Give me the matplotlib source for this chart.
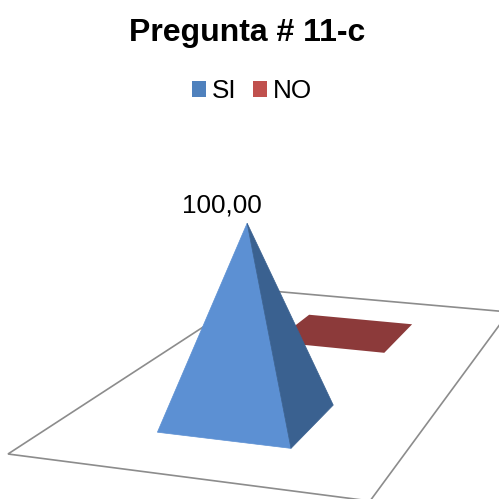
import matplotlib
matplotlib.use("Agg")
import matplotlib.pyplot as plt
from matplotlib.patches import Polygon, Patch

plt.rcParams['font.family'] = ['Liberation Sans', 'DejaVu Sans']

# data
title = "Pregunta # 11-c"
categories = ["SI", "NO"]
values = [100.00, 0.00]
value_labels = ["100,00", None]

# colours
legend_colors = ["#4F81BD", "#C0504D"]
front_colors = ["#5C90D3", "#8C3A3A"]
side_colors = ["#3A6190", "#8C3A3A"]
floor_color = "#8C8C8C"

# perspective floor: unit square -> pixels (fitted on the floor outline)
A, B, C, D = (8, 454), (370, 501), (509, 312), (260, 290)
def make_projection(A, B, C, D):
    dx1, dx2, sx = B[0]-C[0], D[0]-C[0], A[0]-B[0]+C[0]-D[0]
    dy1, dy2, sy = B[1]-C[1], D[1]-C[1], A[1]-B[1]+C[1]-D[1]
    den = dx1*dy2 - dx2*dy1
    g = (sx*dy2 - dx2*sy)/den
    h = (dx1*sy - sx*dy1)/den
    a, b = B[0]-A[0]+g*B[0], D[0]-A[0]+h*D[0]
    d, e = B[1]-A[1]+g*B[1], D[1]-A[1]+h*D[1]
    def project(u, v):
        w = g*u + h*v + 1
        return ((a*u + b*v + A[0])/w, (d*u + e*v + A[1])/w)
    return project
project = make_projection(A, B, C, D)

PX_PER_UNIT = 1.95
U_HALF, V_HALF = 0.197, 0.10

fig = plt.figure(figsize=(4.99, 4.99), dpi=100)
ax = fig.add_axes([0, 0, 1, 1])
ax.set_xlim(0, 499)
ax.set_ylim(499, 0)
ax.axis('off')

ax.add_patch(Polygon([A, B, C, D], closed=True, facecolor='white',
                     edgecolor=floor_color, linewidth=1.2, zorder=1))

# draw back to front
for i in reversed(range(len(categories))):
    vc = (i + 0.5)/len(categories) - 0.003
    fl = project(0.5-U_HALF, vc-V_HALF)
    fr = project(0.5+U_HALF, vc-V_HALF)
    br = project(0.5+U_HALF, vc+V_HALF)
    bl = project(0.5-U_HALF, vc+V_HALF)
    if values[i] > 0:
        cx, cy = project(0.5, vc)
        apex = (cx - 1, cy - values[i]*PX_PER_UNIT)
        ax.add_patch(Polygon([fl, fr, apex], closed=True, facecolor=front_colors[i],
                             edgecolor=front_colors[i], linewidth=0.5, zorder=3))
        ax.add_patch(Polygon([fr, br, apex], closed=True, facecolor=side_colors[i],
                             edgecolor=side_colors[i], linewidth=0.5, zorder=3))
        ax.text(apex[0]-25, apex[1]-6, value_labels[i], ha='center', va='bottom',
                fontsize=18.8, color='black', zorder=5)
    else:
        ax.add_patch(Polygon([fl, fr, br, bl], closed=True, facecolor=front_colors[i],
                             edgecolor='none', zorder=2))

ax.text(247.5, 33, title, ha='center', va='center', fontsize=23,
        fontweight='bold', color='black')

handles = [Patch(facecolor=c, edgecolor='none', label=l)
           for c, l in zip(legend_colors, categories)]
ax.legend(handles=handles, loc='center', bbox_to_anchor=(252, 91),
          bbox_transform=ax.transData, ncol=2, frameon=False, fontsize=18.8,
          handlelength=0.54, handleheight=0.54, handletextpad=0.23,
          columnspacing=0.65, borderpad=0, borderaxespad=0)

fig.savefig("out.png", dpi=100, facecolor='white')
